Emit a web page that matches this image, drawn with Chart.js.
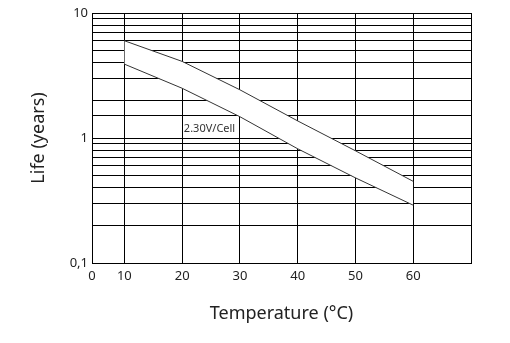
<!DOCTYPE html>
<html>
<head>
<meta charset="utf-8">
<script src="https://cdn.jsdelivr.net/npm/chart.js@4"></script>
<style>
  html, body { margin: 0; padding: 0; background: #fff; }
  #wrap { width: 510px; height: 343px; }
</style>
</head>
<body>
<div id="wrap"><canvas id="lifeChart" width="510" height="343"></canvas></div>
<script>
// values
const temps = [10, 20, 30, 40, 50, 60];
const lifeUpper = [6.0, 4.1, 2.43, 1.37, 0.79, 0.45];
const lifeLower = [3.9, 2.5, 1.48, 0.82, 0.48, 0.29];
const xTicks = [4.4, 10, 20, 30, 40, 50, 60, 70];
const curveLabel = "2.30V/Cell";

const fontFace = "'Noto Sans', 'DejaVu Sans', sans-serif";

const bandLabel = {
  id: 'bandLabel',
  afterDatasetsDraw(chart) {
    const { ctx, scales } = chart;
    ctx.save();
    ctx.font = "11px " + fontFace;
    ctx.fillStyle = '#333';
    ctx.textBaseline = 'alphabetic';
    ctx.fillText(curveLabel, scales.x.getPixelForValue(20.3), scales.y.getPixelForValue(1.12));
    ctx.restore();
  }
};

new Chart(document.getElementById("lifeChart"), {
  type: 'line',
  data: {
    labels: temps,
    datasets: [
      { label: 'upper', data: temps.map((t, i) => ({ x: t, y: lifeUpper[i] })), borderColor: '#333', borderWidth: 1, pointRadius: 0, fill: false, tension: 0 },
      { label: 'lower', data: temps.map((t, i) => ({ x: t, y: lifeLower[i] })), borderColor: '#333', borderWidth: 1, pointRadius: 0, fill: '-1', backgroundColor: '#fff', tension: 0 }
    ]
  },
  options: {
    responsive: false,
    animation: false,
    layout: { padding: { left: 0, right: 39, top: 13, bottom: 14 } },
    plugins: { legend: { display: false }, tooltip: { enabled: false } },
    scales: {
      x: {
        type: 'linear',
        min: 4.4,
        max: 70,
        afterBuildTicks: scale => { scale.ticks = xTicks.map(v => ({ value: v })); },
        afterFit: scale => { scale.height = 66; },
        grid: { color: '#000', lineWidth: 1, drawTicks: false },
        border: { color: '#000', width: 1 },
        ticks: {
          color: '#222',
          padding: 5,
          font: { family: fontFace, size: 13 },
          maxRotation: 0,
          callback: v => v === 70 ? '' : (v < 10 ? '0' : String(v))
        },
        title: { display: true, text: 'Temperature (°C)', color: '#222', font: { family: fontFace, size: 18 }, padding: { top: 6 } }
      },
      y: {
        type: 'logarithmic',
        min: 0.1,
        max: 10,
        afterFit: scale => { scale.width = 92; },
        grid: { color: '#000', lineWidth: 1, drawTicks: false },
        border: { color: '#000', width: 1 },
        ticks: {
          color: '#222',
          padding: 4,
          font: { family: fontFace, size: 13 },
          autoSkip: false,
          callback: v => v === 10 ? '10' : v === 1 ? '1' : (Math.abs(v - 0.1) < 1e-9 ? '0,1' : '')
        },
        title: { display: true, text: 'Life (years)', color: '#222', font: { family: fontFace, size: 18 }, padding: { top: 28, bottom: 0 } }
      }
    }
  },
  plugins: [bandLabel]
});
</script>
</body>
</html>
